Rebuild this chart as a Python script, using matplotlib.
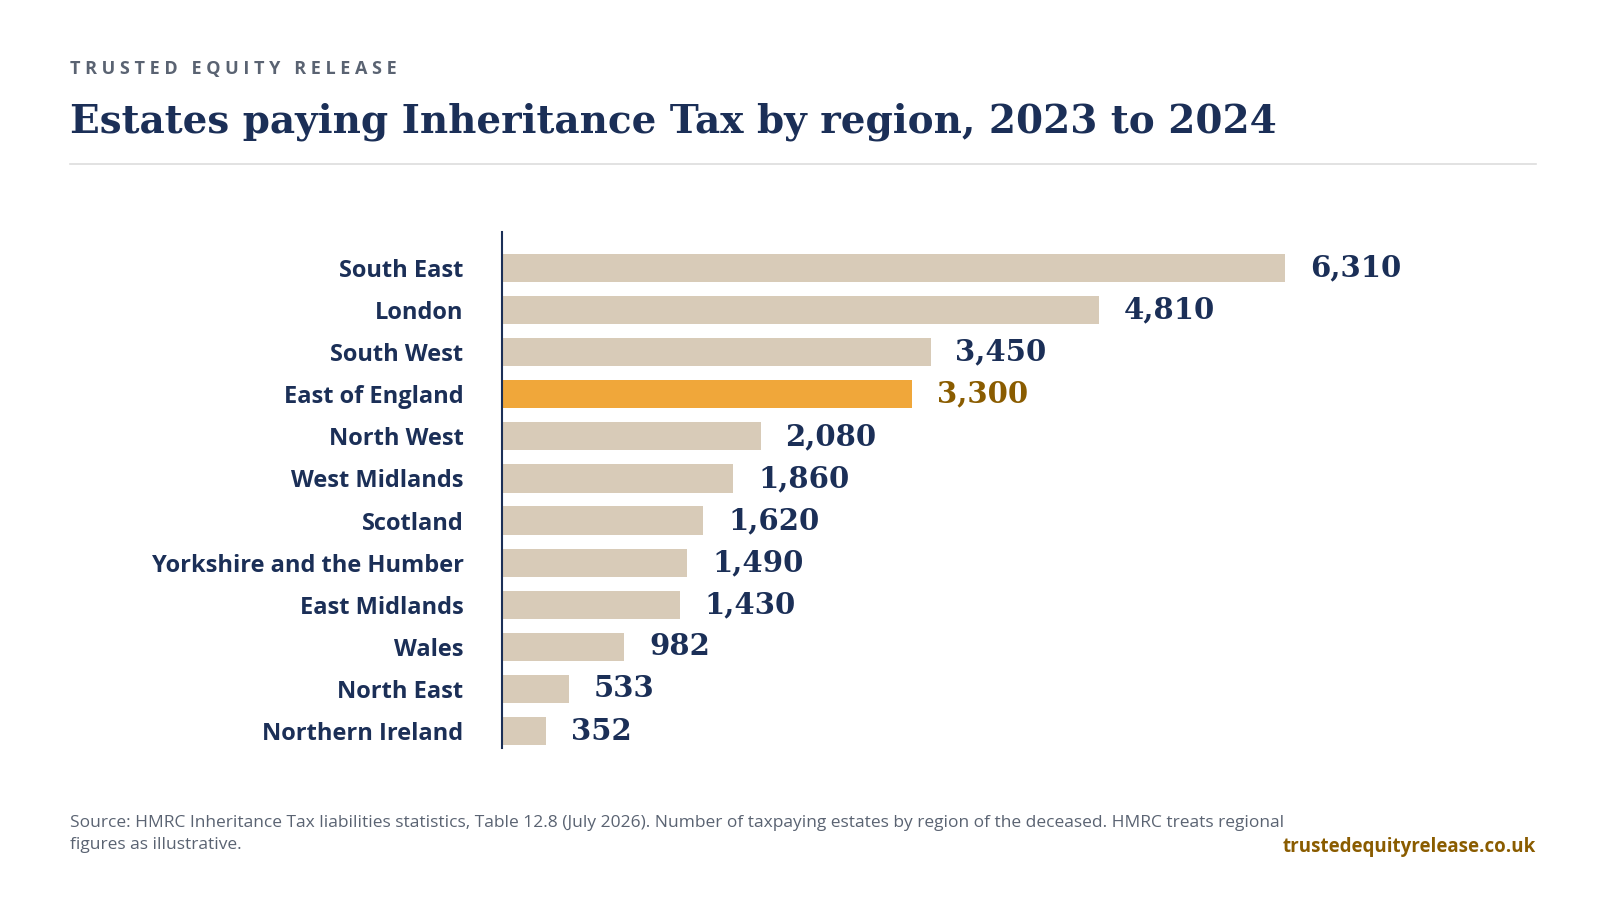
import matplotlib.pyplot as plt

regions = ["South East", "London", "South West", "East of England", "North West",
           "West Midlands", "Scotland", "Yorkshire and the Humber", "East Midlands",
           "Wales", "North East", "Northern Ireland"]
estates = [6310, 4810, 3450, 3300, 2080, 1860, 1620, 1490, 1430, 982, 533, 352]
highlight = "East of England"

navy = "#1B2F57"
beige = "#D8CBB8"
orange = "#F0A73A"
gold = "#8A5C00"

fig = plt.figure(figsize=(16, 9), dpi=100)
fig.patch.set_facecolor("white")
ax = fig.add_axes([0.314, 0.169, 0.636, 0.573])

ypos = list(range(len(regions)))[::-1]
colors = [orange if r == highlight else beige for r in regions]
ax.barh(ypos, estates, height=0.67, color=colors)
ax.set_xlim(0, 8200)
ax.set_ylim(-0.4, len(regions) - 0.15)

for y, v, r in zip(ypos, estates, regions):
    ax.text(v + 200, y, f"{v:,}", va="center", ha="left", fontsize=21,
            fontweight="bold", family="DejaVu Serif",
            color=gold if r == highlight else navy)

ax.set_yticks(ypos)
ax.set_yticklabels(regions, fontsize=17, fontweight="bold", color=navy, family="Open Sans")
ax.tick_params(axis="y", length=0, pad=28)
ax.set_xticks([])
for s in ["top", "right", "bottom"]:
    ax.spines[s].set_visible(False)
ax.spines["left"].set_color(navy)
ax.spines["left"].set_linewidth(1.5)

fig.text(0.044, 0.923, "T R U S T E D   E Q U I T Y   R E L E A S E", fontsize=13, fontweight="bold",
         color="#5A6372", family="Open Sans", va="center")
fig.text(0.044, 0.865, "Estates paying Inheritance Tax by region, 2023 to 2024",
         fontsize=28, fontweight="bold", color=navy, family="DejaVu Serif", va="center")
fig.add_artist(plt.Line2D([0.044, 0.96], [0.818, 0.818], color="#DDDDDD", lw=1.2))

fig.text(0.044, 0.073, "Source: HMRC Inheritance Tax liabilities statistics, Table 12.8 (July 2026). "
         "Number of taxpaying estates by region of the deceased. HMRC treats regional\n"
         "figures as illustrative.", fontsize=12.5, color="#5A6372", family="Open Sans",
         va="center", linespacing=1.5)
fig.text(0.96, 0.059, "trustedequityrelease.co.uk", fontsize=13.5, fontweight="bold",
         color=gold, family="Open Sans", ha="right", va="center")

fig.savefig("out.png", dpi=100)
